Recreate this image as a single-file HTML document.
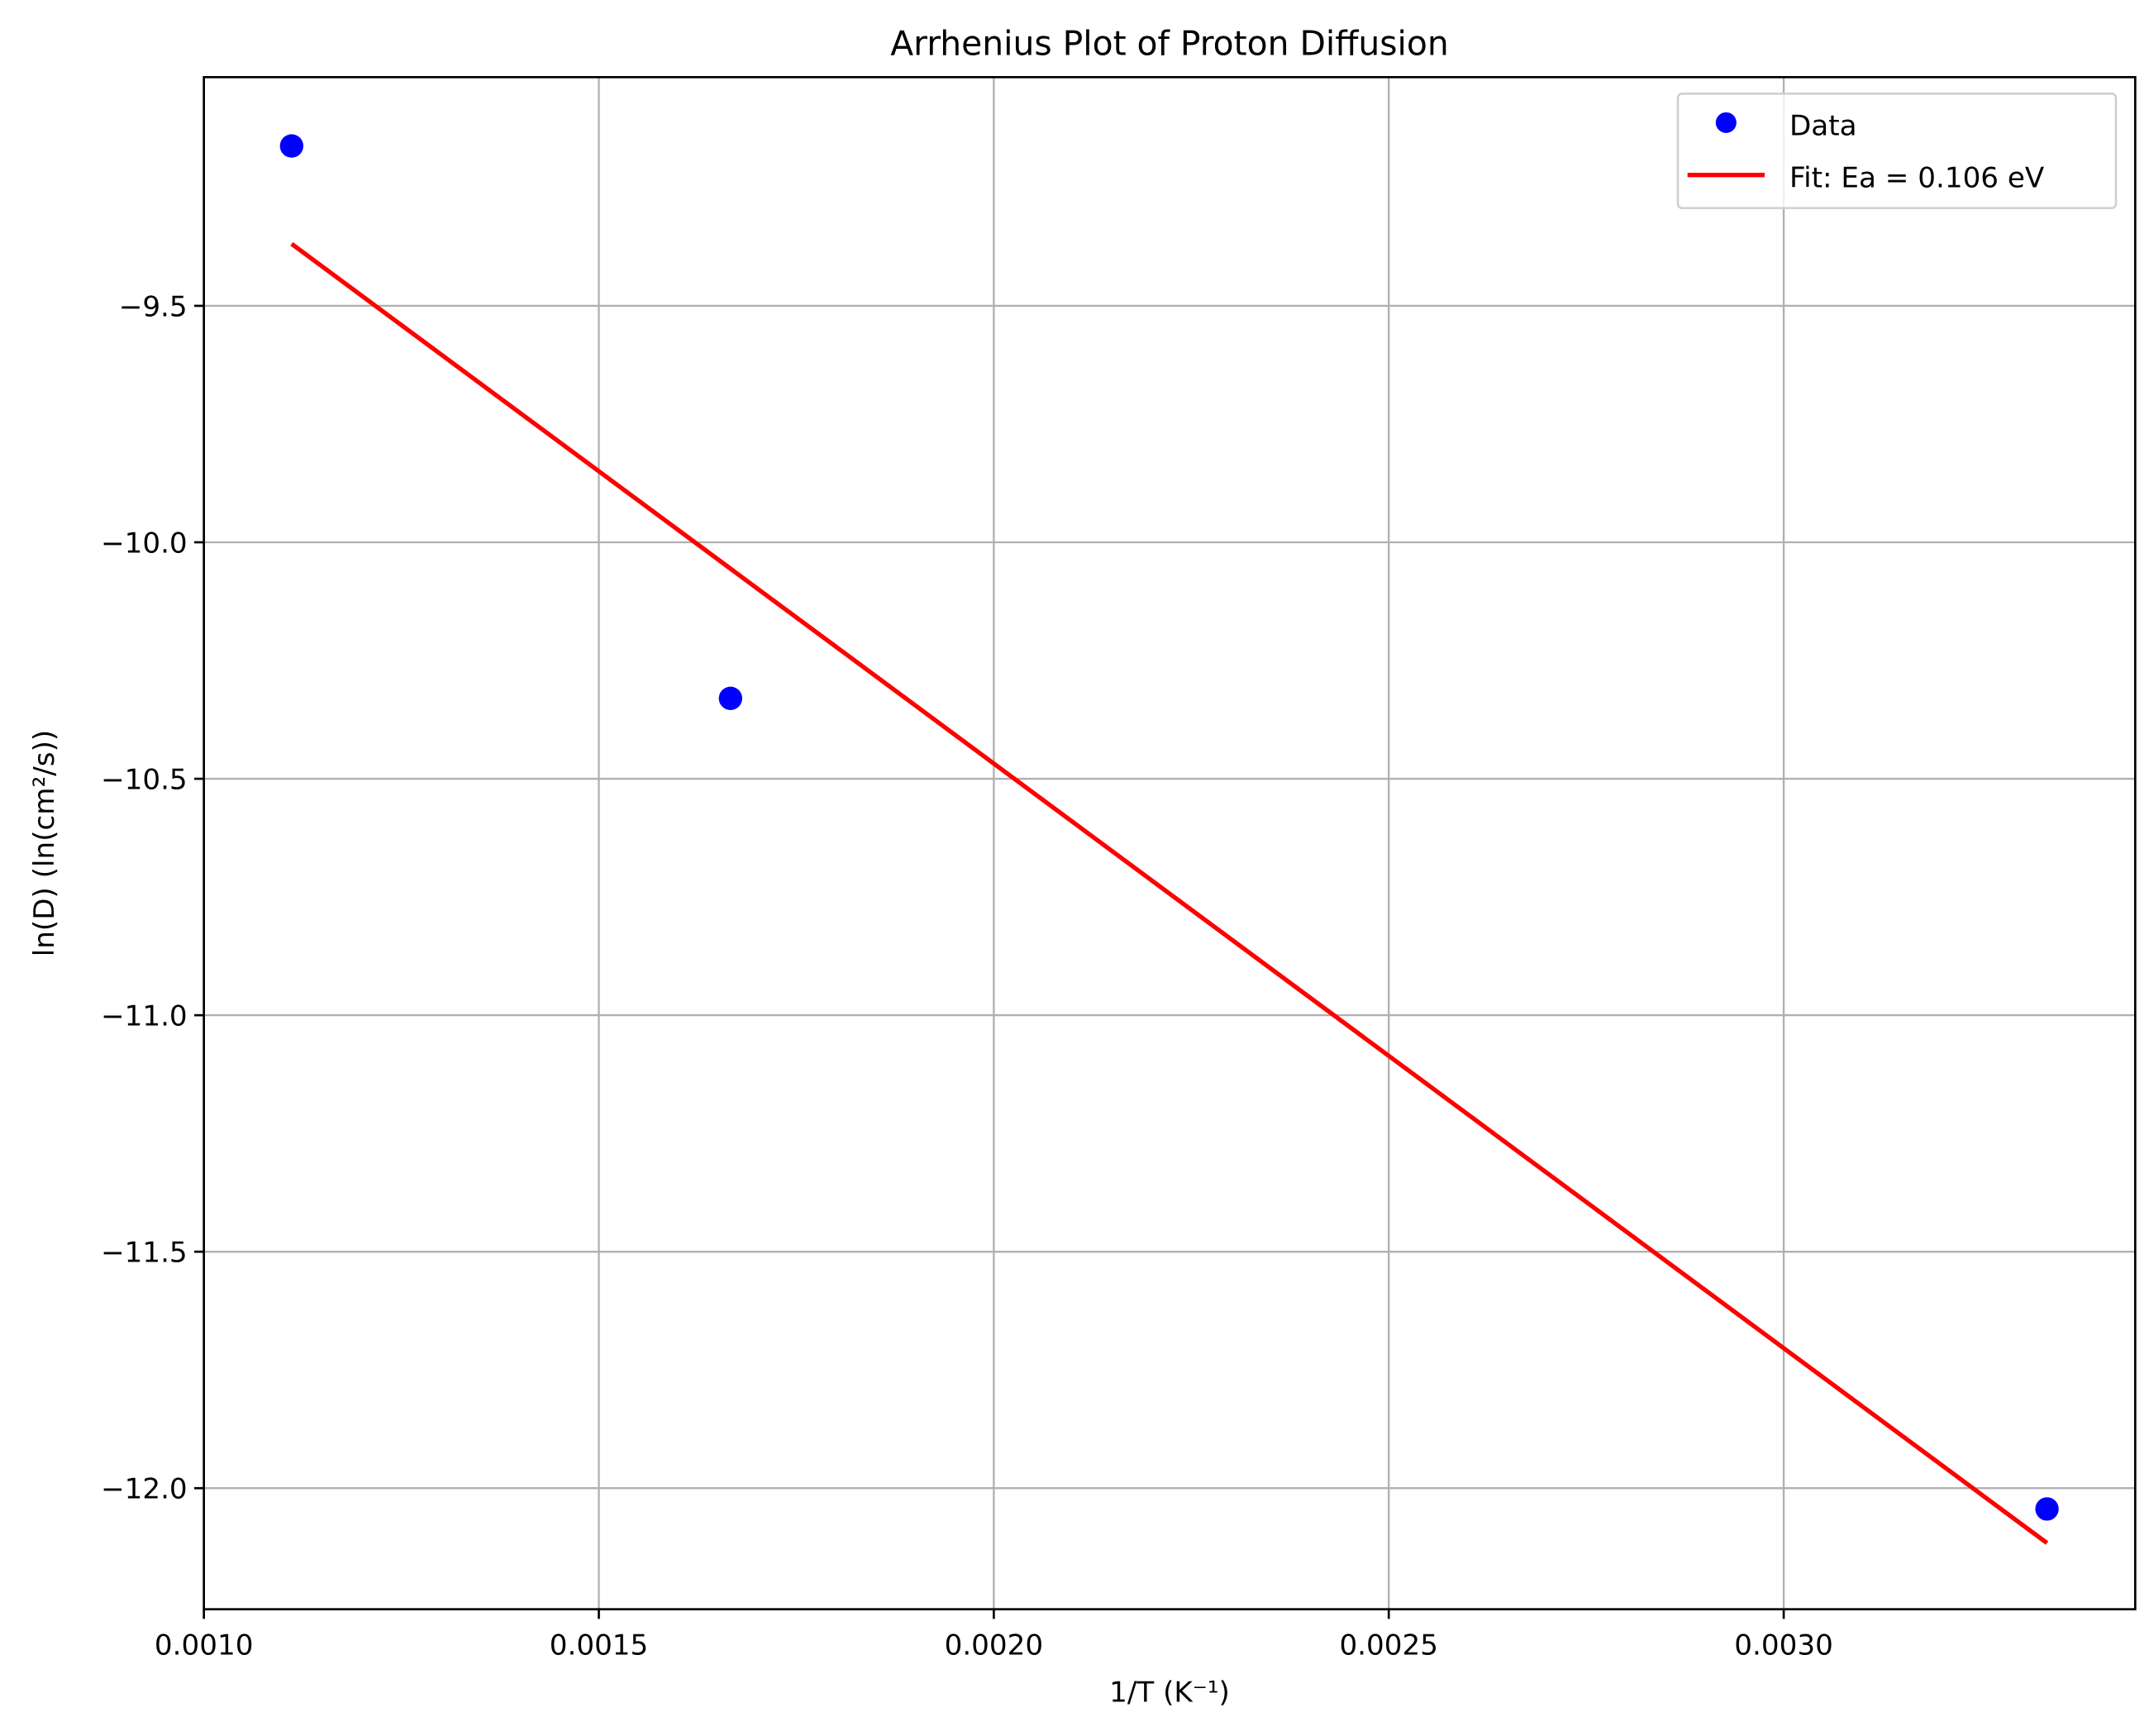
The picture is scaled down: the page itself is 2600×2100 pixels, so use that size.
<!DOCTYPE html>
<html><head><meta charset="utf-8"><style>
html,body{margin:0;padding:0;background:#fff;}
svg{display:block;font-family:"DejaVu Sans","Liberation Sans",sans-serif;}
</style></head><body>
<svg id="chart" width="2600" height="2100" viewBox="0 0 1560 1260" xmlns="http://www.w3.org/2000/svg">
<rect width="1560" height="1260" fill="#fff"/>
<g id="grid"></g>
<g id="marks"></g>
<rect x="148" y="56" width="1402" height="1112" fill="none" stroke="#000" stroke-width="1.6"/>
<g id="ticks" font-size="20.5"></g>
<text x="849" y="40" font-size="24.5" text-anchor="middle">Arrhenius Plot of Proton Diffusion</text>
<text x="849" y="1235" font-size="20.5" text-anchor="middle">1/T (K⁻¹)</text>
<text transform="translate(39,612) rotate(-90)" font-size="20.5" text-anchor="middle">ln(D) (ln(cm²/s))</text>
<g>
<rect x="1218" y="68" width="318" height="83" rx="3" fill="#fff" fill-opacity="0.8" stroke="#d0d0d0" stroke-width="1.6"/>
<circle cx="1253" cy="89" r="7.5" fill="#0000ff"/>
<text x="1299" y="98" font-size="20.5">Data</text>
<line x1="1225" y1="127" x2="1281" y2="127" stroke="#ff0000" stroke-width="3.2"/>
<text x="1299" y="136" font-size="20.5">Fit: Ea = 0.106 eV</text>
</g>
</svg>
<script>
const xTicks = [0.0010, 0.0015, 0.0020, 0.0025, 0.0030];
const xTickLabels = ["0.0010", "0.0015", "0.0020", "0.0025", "0.0030"];
const yTicks = [-9.5, -10.0, -10.5, -11.0, -11.5, -12.0];
const yTickLabels = ["−9.5", "−10.0", "−10.5", "−11.0", "−11.5", "−12.0"];
const dataX = [0.0011111, 0.0016667, 0.0033333];
const dataY = [-9.162, -10.33, -12.044];
const fitX = [0.0011111, 0.0033333];
const fitY = [-9.369, -12.116];

const L=148,R=1550,T=56,B=1168;
const xMin=0.0010,xMax=0.003445,yMin=-12.256,yMax=-9.0165;
const sx=v=>L+(v-xMin)/(xMax-xMin)*(R-L);
const sy=v=>B-(v-yMin)/(yMax-yMin)*(B-T);
const NS="http://www.w3.org/2000/svg";
function mk(tag,attrs,parent){const e=document.createElementNS(NS,tag);for(const k in attrs)e.setAttribute(k,attrs[k]);parent.appendChild(e);return e;}
const grid=document.getElementById('grid'),ticks=document.getElementById('ticks'),marks=document.getElementById('marks');
xTicks.forEach((v,i)=>{const x=sx(v);
 const g=mk('line',{x1:x,x2:x,y1:T,y2:B,stroke:'#b0b0b0','stroke-width':1.4},grid);
 
 
 const t=mk('line',{x1:x,x2:x,y1:B,y2:B+7,stroke:'#000','stroke-width':1.6},ticks);
 
 
 const l=mk('text',{x:x,y:B+33,'text-anchor':'middle'},ticks);l.textContent=xTickLabels[i];
 
 
});
yTicks.forEach((v,i)=>{const y=sy(v);
 const g=mk('line',{x1:L,x2:R,y1:y,y2:y,stroke:'#b0b0b0','stroke-width':1.4},grid);
 
 
 const t=mk('line',{x1:L-7,x2:L,y1:y,y2:y,stroke:'#000','stroke-width':1.6},ticks);
 
 
 const l=mk('text',{x:L-12,y:y+7.5,'text-anchor':'end'},ticks);l.textContent=yTickLabels[i];
 
 
});
const pts=fitX.map((v,i)=>sx(v)+','+sy(fitY[i])).join(' ');
const fl=mk('polyline',{points:pts,fill:'none',stroke:'#ff0000','stroke-width':3.2},marks);


dataX.forEach((v,i)=>{const c=mk('circle',{cx:sx(v),cy:sy(dataY[i]),r:8.5,fill:'#0000ff'},marks);
 
 
});
</script>
</body></html>
